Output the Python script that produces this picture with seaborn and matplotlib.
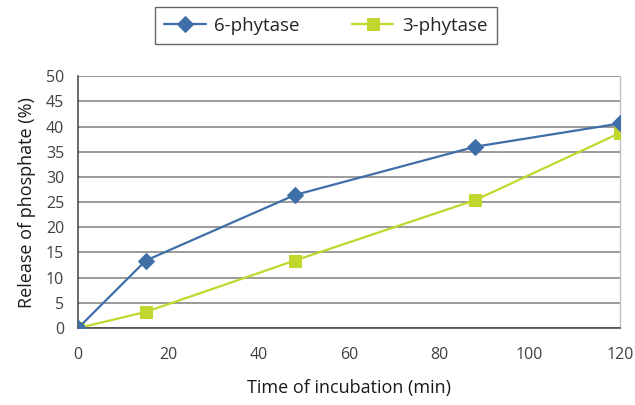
import matplotlib
matplotlib.use("Agg")
import matplotlib.pyplot as plt
import seaborn as sns
import pandas as pd

time_min = [0, 15, 48, 88, 120]
phytase6 = [0, 13.4, 26.4, 36.0, 40.6]
phytase3 = [0, 3.2, 13.4, 25.4, 38.7]
series_names = ["6-phytase", "3-phytase"]
x_ticks = [0, 20, 40, 60, 80, 100, 120]
y_ticks = [0, 5, 10, 15, 20, 25, 30, 35, 40, 45, 50]

sns.set_style("white")
plt.rcParams['font.family'] = ['Open Sans', 'DejaVu Sans']

df = pd.concat([
    pd.DataFrame({"t": time_min, "v": phytase6, "s": series_names[0]}),
    pd.DataFrame({"t": time_min, "v": phytase3, "s": series_names[1]}),
])

fig = plt.figure(figsize=(6.35, 4.05), dpi=100)
ax = fig.add_axes([0.123, 0.19, 0.853, 0.622])

blue = "#3F6FA8"
green = "#C2D72E"
sns.lineplot(data=df[df.s == series_names[0]], x="t", y="v", ax=ax, color=blue,
             marker="D", markersize=8, markeredgecolor=blue, linewidth=1.6,
             label=series_names[0], zorder=4)
sns.lineplot(data=df[df.s == series_names[1]], x="t", y="v", ax=ax, color=green,
             marker="s", markersize=8.5, markeredgecolor=green, linewidth=1.6,
             label=series_names[1], zorder=3)

ax.set_xlim(0, 120)
ax.set_ylim(0, 50)
ax.set_xticks(x_ticks)
ax.set_yticks(y_ticks)
ax.yaxis.grid(True, color="#7f7f7f", linewidth=1.1)
ax.set_axisbelow(True)
for side in ["left", "bottom"]:
    ax.spines[side].set_color("#404040")
    ax.spines[side].set_linewidth(1.1)
ax.spines["top"].set_visible(False)
ax.spines["right"].set_color("#bfbfbf")
ax.spines["right"].set_linewidth(1.0)
ax.tick_params(axis="both", direction="out", length=6, width=1.1, color="#404040",
               labelsize=11.5, labelcolor="#404040", pad=4)
ax.tick_params(axis="x", pad=8)
ax.set_xlabel("Time of incubation (min)", fontsize=13, color="#1a1a1a", labelpad=11)
ax.set_ylabel("Release of phosphate (%)", fontsize=13, color="#1a1a1a", labelpad=7)

ax.get_legend().remove()
handles, labels = ax.get_legend_handles_labels()
leg = fig.legend(handles, labels, loc="center", bbox_to_anchor=(0.513, 0.937), ncol=2,
                 frameon=True, fancybox=False, edgecolor="#404040", fontsize=13.5,
                 handlelength=2.2, handletextpad=0.45, columnspacing=2.8,
                 borderpad=0.5, borderaxespad=0)
leg.get_frame().set_linewidth(1.0)

fig.savefig("out.png", dpi=100)
